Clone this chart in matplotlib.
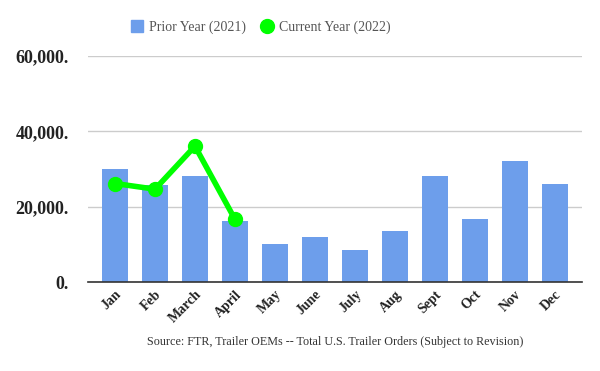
import numpy as np
import matplotlib.pyplot as plt
from matplotlib.lines import Line2D

meses = ['Jan', 'Feb', 'March', 'April', 'May', 'June', 'July', 'Aug', 'Sept', 'Oct', 'Nov', 'Dec']
prior_2021 = [30000, 25800, 28150, 16250, 10150, 12000, 8550, 13600, 28150, 16750, 32100, 26050]
current_2022 = [26200, 24700, 36100, 16700]
yticks = [0, 20000, 40000, 60000]

plt.rcParams['font.family'] = ['Liberation Serif', 'DejaVu Serif']

fig = plt.figure(figsize=(6, 3.71), dpi=100)
ax = fig.add_axes([0.147, 0.239, 0.8225, 0.61])

x = np.arange(len(meses))
ax.bar(x, prior_2021, width=0.65, color='#6d9eeb', zorder=2)
ax.plot(x[:len(current_2022)], current_2022, color='#00ff00', lw=4,
        marker='o', markersize=10, zorder=3)

ax.set_xlim(-0.67, 11.67)
ax.set_ylim(0, 60000)
ax.set_yticks(yticks)
ax.set_yticklabels([f'{v:,}.' for v in yticks], fontsize=13, fontweight='bold', color='#222222')
ax.yaxis.grid(True, color='#cccccc', lw=1, zorder=0)
ax.tick_params(axis='y', length=0, pad=14)
ax.tick_params(axis='x', length=0, pad=4)
ax.set_xticks(x)
ax.set_xticklabels(meses, rotation=45, ha='right', rotation_mode='anchor',
                   fontsize=10, fontweight='bold', color='#222222')
for s in ['top', 'right', 'left']:
    ax.spines[s].set_visible(False)
ax.spines['bottom'].set_color('#333333')
ax.spines['bottom'].set_linewidth(1.2)
ax.spines['bottom'].set_zorder(4)

handles = [Line2D([], [], color='#6d9eeb', marker='s', lw=0, markersize=8, label='Prior Year (2021)'),
           Line2D([], [], color='#00ff00', marker='o', lw=0, markersize=10, label='Current Year (2022)')]
fig.legend(handles=handles, loc='center', bbox_to_anchor=(0.435, 0.927), ncol=2, frameon=False,
           fontsize=10, labelcolor='#555555', handlelength=0.8, handletextpad=0.5, columnspacing=1.1)

fig.text(0.558, 0.078, 'Source: FTR, Trailer OEMs -- Total U.S. Trailer Orders (Subject to Revision)',
         ha='center', va='center', fontsize=8.7, color='#333333')

fig.savefig('out.png', dpi=100)
